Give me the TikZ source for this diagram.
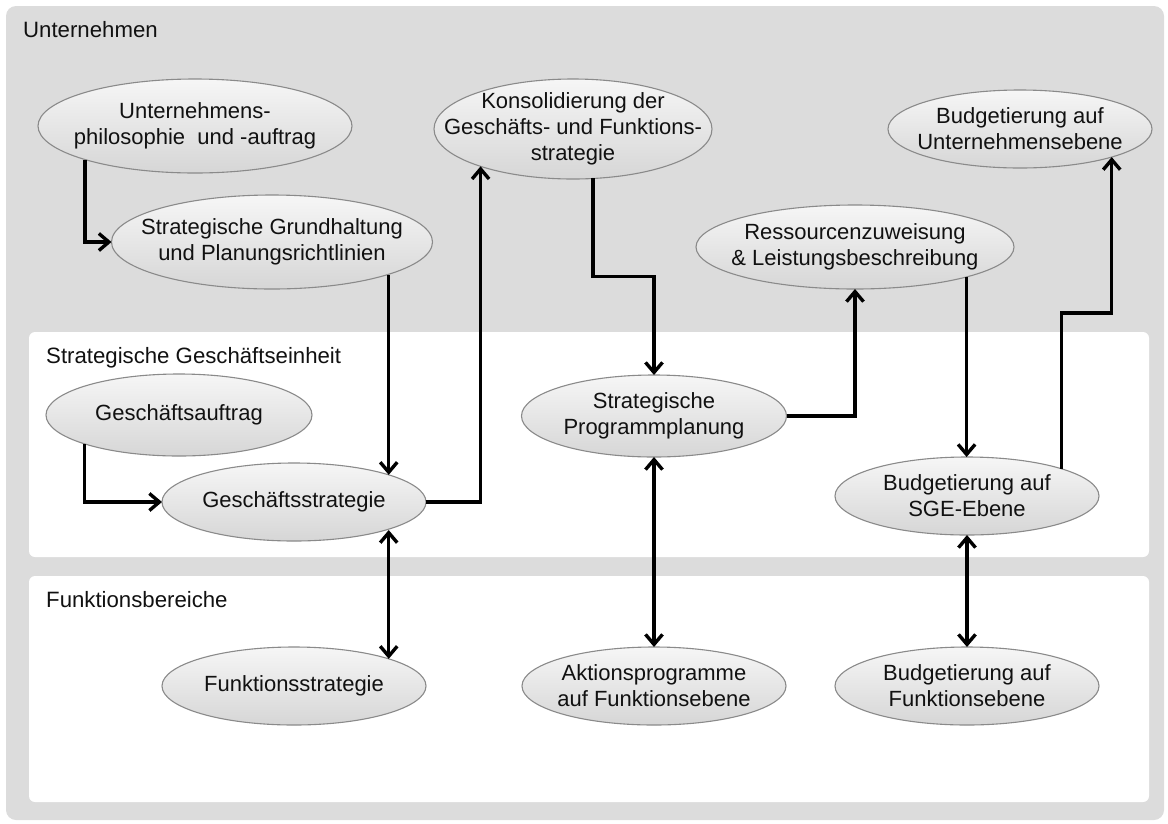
\documentclass[tikz,border=0pt]{standalone}
\usepackage{fontspec}
\setmainfont{Liberation Sans}
\usetikzlibrary{shapes.geometric,arrows.meta,calc}

\definecolor{bgGray}{HTML}{DCDCDC}
\definecolor{ellTop}{HTML}{F6F6F6}
\definecolor{ellBot}{HTML}{D6D6D6}
\definecolor{ellLine}{HTML}{8A8A8A}
\definecolor{txt}{HTML}{111111}

\begin{document}
\begin{tikzpicture}[x=1pt,y=-1pt,
  >={Straight Barb[length=10pt,width=17pt]},
  ell/.style={ellipse, draw=ellLine, line width=1.1pt, top color=ellTop,
    bottom color=ellBot, inner sep=0pt, outer sep=0pt},
  lbl/.style={font=\fontsize{22}{26}\selectfont, align=center, text=txt},
  ttl/.style={font=\fontsize{22.2}{26}\selectfont, text=txt, anchor=base west, inner sep=0pt},
  panel/.style={fill=white, rounded corners=6pt},
  arr/.style={line width=3.4pt, ->},
  biarr/.style={line width=3.4pt, <->}
]
\useasboundingbox (0,0) rectangle (1168,823);

% background areas
\fill[bgGray, rounded corners=10pt] (6,6) rectangle (1164,820);
\fill[panel] (29,332) rectangle (1149,557);
\fill[panel] (29,576) rectangle (1149,802);

\node[ttl] (tU) at (23,37) {Unternehmen};
\node[ttl] (tS) at (46,363) {Strategische Geschäftseinheit};
\node[ttl] (tF) at (46,607) {Funktionsbereiche};

% Unternehmensebene
\node[ell, minimum width=314pt, minimum height=94pt,
  label={[lbl]center:Unternehmens-\\philosophie~ und -auftrag}] (u1) at (195,126) {};
\node[ell, minimum width=321pt, minimum height=94pt,
  label={[lbl]center:Strategische Grundhaltung\\und Planungsrichtlinien}] (sg) at (272,242) {};
\node[ell, minimum width=278pt, minimum height=100pt,
  label={[lbl]center:Konsolidierung der\\Geschäfts- und Funktions-\\strategie}] (ko) at (573,129) {};
\node[ell, minimum width=264pt, minimum height=78pt,
  label={[lbl]center:Budgetierung auf\\Unternehmensebene}] (bu) at (1020,129) {};
\node[ell, minimum width=318pt, minimum height=84pt,
  label={[lbl]center:Ressourcenzuweisung\\\& Leistungsbeschreibung}] (re) at (855,247) {};

% SGE-Ebene
\node[ell, minimum width=266pt, minimum height=82pt,
  label={[lbl]center:Geschäftsauftrag}] (ga) at (179,415) {};
\node[ell, minimum width=264pt, minimum height=78pt,
  label={[lbl]center:Geschäftsstrategie}] (gs) at (294,502) {};
\node[ell, minimum width=265pt, minimum height=82pt,
  label={[lbl]center:Strategische\\Programmplanung}] (pp) at (654,416) {};
\node[ell, minimum width=264pt, minimum height=78pt,
  label={[lbl]center:Budgetierung auf\\SGE-Ebene}] (sge) at (967,496) {};

% Funktionsebene
\node[ell, minimum width=264pt, minimum height=78pt,
  label={[lbl]center:Funktionsstrategie}] (fs) at (294,686) {};
\node[ell, minimum width=264pt, minimum height=78pt,
  label={[lbl]center:Aktionsprogramme\\auf Funktionsebene}] (ak) at (654,686) {};
\node[ell, minimum width=264pt, minimum height=78pt,
  label={[lbl]center:Budgetierung auf\\Funktionsebene}] (bf) at (967,686) {};

% connectors
\draw[arr] (u1.197) |- (sg.west);
\draw[arr] (ga.197.5) |- (gs.west);
\draw[arr] (gs.16.6 |- sg.344.1) -- (gs.16.6);
\draw[arr] (gs.east) -| (ko.202.55);
\draw[arr] (ko.292) |- ($(ko.292)!0.5!(pp.north)$) -| (pp.north);
\draw[arr] (pp.east) -| (re.south);
\draw[arr] (re.345.1) -- (re.345.1 |- sge.north);
\draw[arr] (sge.16.25) |- ($(sge.16.25)!0.5!(bu.343.75)$) -| (bu.343.75);
\draw[biarr] (gs.16.6 |- gs.343.4) -- (gs.16.6 |- fs.16.6);
\draw[biarr] (pp.south) -- (ak.north);
\draw[biarr] (sge.south) -- (bf.north);
\end{tikzpicture}
\end{document}
